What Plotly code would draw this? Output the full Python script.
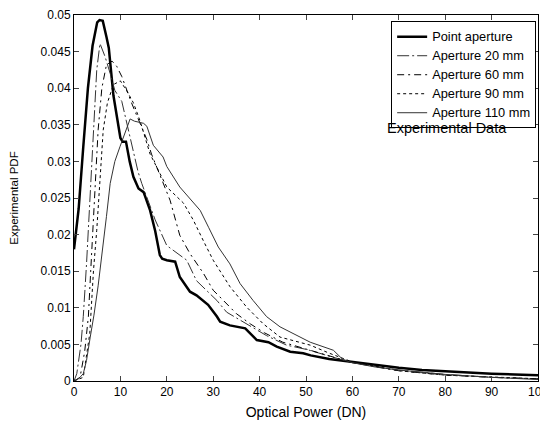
import plotly.graph_objects as go

# Point aperture
x_point = [0, 1, 2, 3, 4, 5, 5.5, 6.2, 7, 7.5, 8.5, 9.5, 10, 10.5, 11.2, 12, 12.8, 13.9, 15, 16.4, 17.5, 18.5, 19, 20, 21.8, 22.8, 25, 26.4, 28.9, 30.8, 31.5, 33.6, 36.9, 39.4, 41.9, 43.7, 46.6, 49.4, 51, 55, 60, 65, 70, 75, 80, 85, 90, 95, 100]
y_point = [0.018, 0.0235, 0.032, 0.040, 0.0458, 0.049, 0.0493, 0.0492, 0.047, 0.0455, 0.039, 0.035, 0.0332, 0.0327, 0.0327, 0.030, 0.0279, 0.0263, 0.0258, 0.0233, 0.0205, 0.0172, 0.0167, 0.0165, 0.0163, 0.0142, 0.0122, 0.0117, 0.0104, 0.0088, 0.0081, 0.0076, 0.0072, 0.0056, 0.0053, 0.0047, 0.0040, 0.0038, 0.0035, 0.0030, 0.0026, 0.0021, 0.0018, 0.0015, 0.0013, 0.0011, 0.0010, 0.0009, 0.0008]

# Aperture 20 mm
x_a20 = [0, 0.6, 1.5, 2, 2.7, 3.4, 4.2, 4.9, 5.6, 6.7, 7.8, 8.8, 10.3, 11, 12.1, 12.8, 13.8, 14.6, 15.7, 17.5, 20, 22, 24.3, 26.4, 27.9, 30.8, 32.9, 35.8, 38.6, 41.5, 45.8, 50.2, 55, 60, 70, 80, 90, 100]
y_a20 = [0, 0.001, 0.005, 0.0088, 0.016, 0.025, 0.0343, 0.0425, 0.0461, 0.0443, 0.042, 0.0397, 0.0382, 0.0362, 0.033, 0.031, 0.0286, 0.027, 0.0252, 0.022, 0.0185, 0.0176, 0.0165, 0.0137, 0.0128, 0.0110, 0.0094, 0.0083, 0.0072, 0.0062, 0.0049, 0.0043, 0.0034, 0.0025, 0.0015, 0.0009, 0.0005, 0.0003]

# Aperture 60 mm
x_a60 = [0, 1.3, 2.3, 3.1, 3.6, 4.5, 5.2, 6, 7, 8.2, 9.2, 10.3, 11.7, 12.4, 13.5, 15.7, 16.7, 18.2, 20.7, 22.8, 25, 27.9, 30, 32.2, 35, 38, 41, 45, 50, 55, 60, 70, 80, 90, 100]
y_a60 = [0, 0.0005, 0.004, 0.0088, 0.015, 0.025, 0.0343, 0.040, 0.0432, 0.0437, 0.043, 0.0416, 0.039, 0.038, 0.0363, 0.033, 0.031, 0.0286, 0.0247, 0.0199, 0.0174, 0.0147, 0.0124, 0.011, 0.0092, 0.0078, 0.0066, 0.0053, 0.0044, 0.0034, 0.0025, 0.0014, 0.0008, 0.0005, 0.0003]

# Aperture 90 mm
x_a90 = [0, 2, 3.4, 4.2, 4.9, 5.6, 6.3, 7.2, 8.5, 10, 11.5, 12.8, 14.2, 16.4, 20, 23.6, 25.7, 28, 30, 33.6, 37.2, 40.8, 44.4, 50.9, 55, 60, 70, 80, 90, 100]
y_a90 = [0, 0.0005, 0.0065, 0.0151, 0.0206, 0.0274, 0.0343, 0.038, 0.0405, 0.041, 0.0395, 0.038, 0.0356, 0.031, 0.0265, 0.0243, 0.022, 0.019, 0.0165, 0.0129, 0.0101, 0.0078, 0.006, 0.0049, 0.0038, 0.0026, 0.0014, 0.0008, 0.0005, 0.0003]

# Aperture 110 mm
x_a110 = [0, 1, 2, 2.7, 3.5, 4.3, 5.2, 6.2, 7, 7.8, 8.8, 9.9, 11, 12.1, 13, 13.8, 15, 15.7, 16.4, 17.1, 19.2, 20, 22.8, 27.2, 29, 31.1, 33.6, 35.8, 38.6, 41.5, 44.4, 48, 50.9, 55.9, 58, 60, 65, 70, 80, 90, 100]
y_a110 = [0, 0.0003, 0.001, 0.0028, 0.006, 0.009, 0.013, 0.018, 0.0225, 0.027, 0.030, 0.032, 0.034, 0.0358, 0.0355, 0.0354, 0.0352, 0.0348, 0.0334, 0.0322, 0.0306, 0.0293, 0.0265, 0.0233, 0.021, 0.0183, 0.016, 0.0133, 0.011, 0.0088, 0.0074, 0.0062, 0.0053, 0.0042, 0.0029, 0.0025, 0.0019, 0.0015, 0.0009, 0.0005, 0.0002]

series_names = ["Point aperture", "Aperture 20 mm", "Aperture 60 mm", "Aperture 90 mm", "Aperture 110 mm"]

x_ticks = [0, 10, 20, 30, 40, 50, 60, 70, 80, 90, 100]
y_ticks = [0, 0.005, 0.01, 0.015, 0.02, 0.025, 0.03, 0.035, 0.04, 0.045, 0.05]
y_tick_text = ["0", "0.005", "0.01", "0.015", "0.02", "0.025", "0.03", "0.035", "0.04", "0.045", "0.05"]

FONT = "Arial, Liberation Sans, sans-serif"


def lg(name):
    # slightly larger legend text while keeping compact legend rows
    return "<span style='font-size:12.8px'>" + name + "</span>"


fig = go.Figure()
fig.add_trace(go.Scatter(x=x_point, y=y_point, mode="lines", name=lg(series_names[0]),
                         line=dict(color="black", width=2.5)))
fig.add_trace(go.Scatter(x=x_a20, y=y_a20, mode="lines", name=lg(series_names[1]),
                         line=dict(color="#333333", width=1, dash="12px,3px,2px,3px")))
fig.add_trace(go.Scatter(x=x_a60, y=y_a60, mode="lines", name=lg(series_names[2]),
                         line=dict(color="black", width=1, dash="7px,4px,2px,4px")))
fig.add_trace(go.Scatter(x=x_a90, y=y_a90, mode="lines", name=lg(series_names[3]),
                         line=dict(color="black", width=1, dash="3px,3px")))
fig.add_trace(go.Scatter(x=x_a110, y=y_a110, mode="lines", name=lg(series_names[4]),
                         line=dict(color="#333333", width=1)))

fig.add_annotation(x=0.803, y=0.69, xref="paper", yref="paper", text="Experimental Data",
                   xanchor="center", yanchor="middle",
                   showarrow=False, font=dict(family=FONT, size=14.5, color="black"))

# page body has an 8px margin, so the figure is sized/margined to compensate
fig.update_layout(
    width=540, height=418,
    margin=dict(l=66, r=10, t=7, b=45, autoexpand=False),
    paper_bgcolor="white", plot_bgcolor="white",
    font=dict(family=FONT, size=12, color="black"),
    showlegend=True,
    legend=dict(x=0.996, y=0.983, xanchor="right", yanchor="top",
                bgcolor="white", bordercolor="black", borderwidth=1,
                font=dict(family=FONT, size=10), tracegroupgap=0,
                itemwidth=30),
)
fig.update_xaxes(range=[0, 100], tickvals=x_ticks, ticks="inside", ticklen=5,
                 showline=True, linecolor="black", linewidth=1, mirror="ticks",
                 showgrid=False, zeroline=False, automargin=False,
                 ticklabeloverflow="allow",
                 title=dict(text="Optical Power (DN)", standoff=8,
                            font=dict(family=FONT, size=14)))
fig.update_yaxes(range=[0, 0.05], tickvals=y_ticks, ticktext=y_tick_text, ticks="inside", ticklen=5,
                 showline=True, linecolor="black", linewidth=1, mirror="ticks",
                 showgrid=False, zeroline=False, automargin=False,
                 ticklabeloverflow="allow",
                 title=dict(text="Experimental PDF", standoff=20,
                            font=dict(family=FONT, size=11.5)))

fig.write_html("out.html")
